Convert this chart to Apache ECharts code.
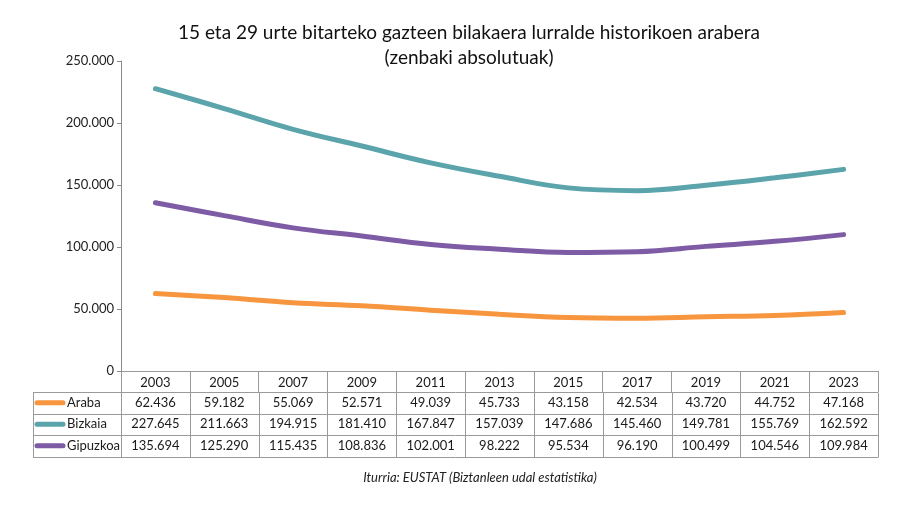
<!DOCTYPE html>
<html>
<head>
<meta charset="utf-8">
<script src="https://cdn.jsdelivr.net/npm/echarts@6/dist/echarts.min.js"></script>
<style>
html,body{margin:0;padding:0;background:#fff;}
#c{width:912px;height:506px;}
</style>
</head>
<body>
<div id="c"></div>
<script>
const years = ['2003','2005','2007','2009','2011','2013','2015','2017','2019','2021','2023'];
const araba = [62436, 59182, 55069, 52571, 49039, 45733, 43158, 42534, 43720, 44752, 47168];
const bizkaia = [227645, 211663, 194915, 181410, 167847, 157039, 147686, 145460, 149781, 155769, 162592];
const gipuzkoa = [135694, 125290, 115435, 108836, 102001, 98222, 95534, 96190, 100499, 104546, 109984];
const seriesNames = ['Araba', 'Bizkaia', 'Gipuzkoa'];
const seriesColors = ['#F7963F', '#5BA4AB', '#7E5BA5'];
const titleText = '15 eta 29 urte bitarteko gazteen bilakaera lurralde historikoen arabera\n(zenbaki absolutuak)';
const sourceText = 'Iturria: EUSTAT (Biztanleen udal estatistika)';

const FONT = 'Lato, "Open Sans", sans-serif';
const fmt = n => String(n).replace(/\B(?=(\d{3})+(?!\d))/g, '.');
const seriesData = [araba, bizkaia, gipuzkoa];

const GRID = {left: 121, right: 34, top: 61, bottom: 135};
const ROW_H = 21.5;
const HEADER_H = 21;
const TABLE_LEFT = 33;
const BORDER = '#9a9a9a';

const chart = echarts.init(document.getElementById('c'));
chart.setOption({
  animation: false,
  backgroundColor: '#fff',
  title: {
    text: titleText,
    left: 464, top: 15, textAlign: 'center',
    textStyle: {fontFamily: FONT, fontSize: 19, fontWeight: 'normal', color: '#111', lineHeight: 25}
  },
  grid: GRID,
  xAxis: {
    type: 'category', data: years, boundaryGap: true,
    axisLine: {lineStyle: {color: BORDER, width: 1}},
    axisTick: {show: true, length: HEADER_H, lineStyle: {color: BORDER}},
    axisLabel: {fontFamily: FONT, fontSize: 13, color: '#1a1a1a', margin: 5}
  },
  yAxis: {
    type: 'value', min: 0, max: 250000, interval: 50000,
    splitLine: {show: false},
    axisLine: {show: true, lineStyle: {color: '#8a8a8a'}},
    axisTick: {show: true, length: 4, lineStyle: {color: '#8a8a8a'}},
    axisLabel: {fontFamily: FONT, fontSize: 13, color: '#222', margin: 7, formatter: v => fmt(v)}
  },
  series: seriesNames.map((name, i) => ({
    name, type: 'line', data: seriesData[i], smooth: 0.4, showSymbol: false,
    lineStyle: {width: 5, color: seriesColors[i], cap: 'round'},
    itemStyle: {color: seriesColors[i]}
  }))
});

// Build data table under the axis
const c0 = chart.convertToPixel({xAxisIndex: 0}, 0);
const c1 = chart.convertToPixel({xAxisIndex: 0}, 1);
const colW = c1 - c0;
const axisY = chart.convertToPixel({yAxisIndex: 0}, 0);
const plotLeft = c0 - colW / 2;
const plotRight = c0 + colW * (years.length - 0.5);
const tableTop = axisY + HEADER_H;
const els = [];
const line = (x1, y1, x2, y2) => els.push({type: 'line', shape: {x1, y1, x2, y2}, style: {stroke: BORDER, lineWidth: 1}, silent: true});
for (let r = 0; r <= seriesNames.length; r++) {
  const y = Math.round(tableTop + r * ROW_H) + 0.5;
  line(TABLE_LEFT, y, plotRight, y);
}
const tableBottom = Math.round(tableTop + seriesNames.length * ROW_H) + 0.5;
line(TABLE_LEFT + 0.5, Math.round(tableTop) + 0.5, TABLE_LEFT + 0.5, tableBottom);
for (let k = 0; k <= years.length; k++) {
  const x = Math.round(plotLeft + k * colW) + 0.5;
  line(x, Math.round(tableTop) + 0.5, x, tableBottom);
}
seriesNames.forEach((name, r) => {
  const cy = tableTop + (r + 0.5) * ROW_H;
  els.push({type: 'line', shape: {x1: TABLE_LEFT + 4, y1: cy, x2: TABLE_LEFT + 30, y2: cy},
    style: {stroke: seriesColors[r], lineWidth: 5, lineCap: 'round'}, silent: true});
  els.push({type: 'text', x: TABLE_LEFT + 34, y: cy,
    style: {text: name, fontFamily: FONT, fontSize: 13, fill: '#1a1a1a', textAlign: 'left', textVerticalAlign: 'middle'}, silent: true});
  seriesData[r].forEach((v, k) => {
    els.push({type: 'text', x: c0 + k * colW, y: cy,
      style: {text: fmt(v), fontFamily: FONT, fontSize: 13, fill: '#1a1a1a', textAlign: 'center', textVerticalAlign: 'middle'}, silent: true});
  });
});
els.push({type: 'text', x: 480, y: 478,
  style: {text: sourceText, fontFamily: FONT, fontSize: 13, fontStyle: 'italic', fill: '#222', textAlign: 'center', textVerticalAlign: 'middle'}, silent: true});
chart.setOption({graphic: {elements: els}});
</script>
</body>
</html>
